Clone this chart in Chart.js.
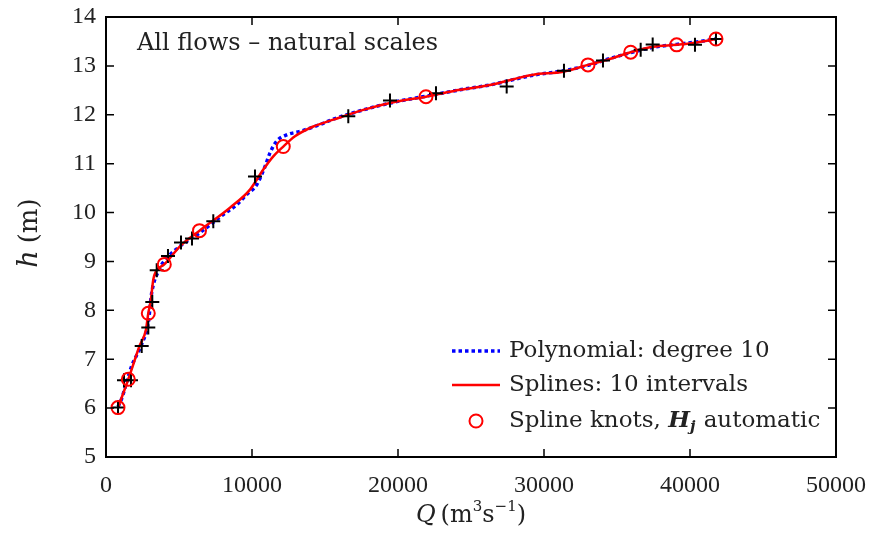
<!DOCTYPE html>
<html><head><meta charset="utf-8">
<script src="https://cdn.jsdelivr.net/npm/chart.js@4/dist/chart.umd.min.js"></script>
<style>html,body{margin:0;padding:0;background:#fff;}</style>
</head><body>
<canvas id="c" width="881" height="534"></canvas>
<script>
// Observations (black crosses)
const obsQ = [822, 1233, 1712, 2445, 2897, 3171, 3473, 4246, 5137, 5890, 7349, 10205, 16595, 19451, 22602, 27444, 31368, 34040, 36622, 37444, 40341, 41779];
const obsH = [6.01, 6.57, 6.57, 7.27, 7.65, 8.17, 8.82, 9.11, 9.39, 9.47, 9.82, 10.74, 11.97, 12.29, 12.44, 12.58, 12.90, 13.11, 13.33, 13.44, 13.43, 13.55];
// Spline knots (red circles)
const knotQ = [822, 1527, 2897, 3993, 6404, 12143, 21917, 33012, 35937, 39087, 41779];
const knotH = [6.01, 6.59, 7.94, 8.94, 9.63, 11.35, 12.37, 13.02, 13.28, 13.43, 13.55];
// Spline curve (red line)
const splineQ = [822, 1527, 2294, 2740, 2897, 3061, 3240, 3425, 3993, 5068, 6404, 8493, 9863, 10773, 11458, 12143, 12944, 14198, 15568, 17623, 19910, 21917, 24245, 26300, 29266, 31321, 33012, 34294, 35937, 37485, 39087, 40458, 41779];
const splineH = [6.01, 6.59, 7.27, 7.61, 7.94, 8.19, 8.63, 8.80, 8.94, 9.31, 9.63, 10.10, 10.47, 10.88, 11.15, 11.35, 11.56, 11.76, 11.90, 12.10, 12.27, 12.37, 12.51, 12.61, 12.82, 12.88, 13.02, 13.12, 13.28, 13.39, 13.43, 13.48, 13.55];
// Polynomial degree 10 (blue dotted)
const polyQ = [822, 1007, 1760, 2445, 2897, 3130, 3582, 3972, 5068, 6438, 8034, 8952, 9637, 10322, 10890, 11232, 11691, 12376, 13287, 14657, 15568, 17623, 19910, 21917, 24245, 26300, 29266, 31321, 33012, 34294, 35937, 37485, 39087, 40458, 41779];
const polyH = [6.03, 6.14, 6.86, 7.31, 7.75, 8.36, 8.80, 9.00, 9.31, 9.59, 9.96, 10.16, 10.37, 10.57, 10.94, 11.22, 11.46, 11.59, 11.66, 11.80, 11.91, 12.10, 12.27, 12.38, 12.51, 12.61, 12.81, 12.90, 13.01, 13.13, 13.27, 13.38, 13.44, 13.49, 13.55];
// Ticks
const xTicks = [0, 10000, 20000, 30000, 40000, 50000];
const yTicks = [5, 6, 7, 8, 9, 10, 11, 12, 13, 14];
const legendLabels = ["Polynomial: degree 10", "Splines: 10 intervals", "Spline knots, ", "H", "j", " automatic"];
const annotation = "All flows \u2013 natural scales";

const pts = (xs, ys) => xs.map((x, i) => ({x: x, y: ys[i]}));
const serif = "'Liberation Serif','Times New Roman',serif";
const wide = "'DejaVu Serif',serif";
const F = (size, style, fam) => (style ? style + ' ' : '') + size + 'px ' + (fam || wide);

function drawRich(ctx, parts, x, y) {
  let cx = x;
  for (const p of parts) {
    ctx.font = p.font;
    ctx.fillText(p.t, cx, y + (p.dy || 0));
    cx += ctx.measureText(p.t).width + (p.gap || 0);
  }
  return cx - x;
}
function richWidth(ctx, parts) {
  let w = 0;
  for (const p of parts) { ctx.font = p.font; w += ctx.measureText(p.t).width + (p.gap || 0); }
  return w;
}

const decor = {
  id: 'decor',
  afterDraw(chart) {
    const ctx = chart.ctx, a = chart.chartArea;
    const xs = chart.scales.x, ys = chart.scales.y;
    ctx.save();
    ctx.strokeStyle = '#000';
    ctx.lineWidth = 2;
    ctx.strokeRect(a.left, a.top, a.right - a.left, a.bottom - a.top);
    const tl = 8;
    ctx.lineWidth = 1.5;
    ctx.beginPath();
    for (const v of xTicks) {
      const px = xs.getPixelForValue(v);
      ctx.moveTo(px, a.bottom); ctx.lineTo(px, a.bottom - tl);
      ctx.moveTo(px, a.top); ctx.lineTo(px, a.top + tl);
    }
    for (const v of yTicks) {
      const py = ys.getPixelForValue(v);
      ctx.moveTo(a.left, py); ctx.lineTo(a.left + tl, py);
      ctx.moveTo(a.right, py); ctx.lineTo(a.right - tl, py);
    }
    ctx.stroke();

    ctx.fillStyle = '#222';
    ctx.textBaseline = 'middle';
    ctx.textAlign = 'left';
    // annotation
    ctx.font = F(24);
    ctx.fillText(annotation, 137, 44);

    // x axis title
    const xt = [
      {t: 'Q', font: F(24, 'italic'), gap: 5},
      {t: '(m', font: F(24)},
      {t: '3', font: F(15), dy: -9},
      {t: 's', font: F(24)},
      {t: '\u22121', font: F(15), dy: -9},
      {t: ')', font: F(24)}
    ];
    const cx = (a.left + a.right) / 2;
    const w = richWidth(ctx, xt);
    drawRich(ctx, xt, cx - w / 2, 516);

    // y axis title
    ctx.save();
    ctx.translate(30, 233);
    ctx.rotate(-Math.PI / 2);
    const yt = [
      {t: 'h', font: F(27, 'italic'), gap: 7},
      {t: '(m)', font: F(26)}
    ];
    const wy = richWidth(ctx, yt);
    drawRich(ctx, yt, -wy / 2, 0);
    ctx.restore();

    // legend
    const lx0 = 452, lx1 = 500, tx = 509;
    const rows = [351, 385, 421];
    ctx.lineCap = 'butt';
    ctx.strokeStyle = '#0000ff'; ctx.lineWidth = 3.5; ctx.setLineDash([3.5, 3]);
    ctx.beginPath(); ctx.moveTo(lx0, rows[0]); ctx.lineTo(lx1, rows[0]); ctx.stroke();
    ctx.setLineDash([]);
    ctx.strokeStyle = '#ff0000'; ctx.lineWidth = 2.5;
    ctx.beginPath(); ctx.moveTo(lx0, rows[1]); ctx.lineTo(lx1, rows[1]); ctx.stroke();
    ctx.lineWidth = 2;
    ctx.beginPath(); ctx.arc((lx0 + lx1) / 2, rows[2], 6.5, 0, Math.PI * 2); ctx.stroke();
    ctx.fillStyle = '#222';
    ctx.font = F(23);
    ctx.fillText(legendLabels[0], tx, rows[0]);
    ctx.fillText(legendLabels[1], tx, rows[1]);
    drawRich(ctx, [
      {t: legendLabels[2], font: F(23)},
      {t: legendLabels[3], font: F(23, 'italic bold')},
      {t: legendLabels[4], font: F(15, 'italic bold'), dy: 6, gap: 1},
      {t: legendLabels[5], font: F(23)}
    ], tx, rows[2]);
    ctx.restore();
  }
};

new Chart(document.getElementById('c'), {
  type: 'scatter',
  data: {
    datasets: [
      {label: 'knots', data: pts(knotQ, knotH), pointStyle: 'circle', pointRadius: 6.5, borderColor: '#ff0000', backgroundColor: 'rgba(0,0,0,0)', borderWidth: 2, showLine: false, order: 0},
      {label: 'obs', data: pts(obsQ, obsH), pointStyle: 'cross', pointRadius: 7, borderColor: '#000', backgroundColor: '#000', borderWidth: 2, showLine: false, order: 1},
      {label: 'spline', data: pts(splineQ, splineH), showLine: true, pointRadius: 0, borderColor: '#ff0000', borderWidth: 2.5, cubicInterpolationMode: 'monotone', order: 2},
      {label: 'poly', data: pts(polyQ, polyH), showLine: true, pointRadius: 0, borderColor: '#0000ff', borderWidth: 3.5, borderDash: [3.5, 3], borderCapStyle: 'butt', cubicInterpolationMode: 'monotone', order: 3}
    ]
  },
  options: {
    responsive: false,
    animation: false,
    devicePixelRatio: 1,
    layout: {padding: {top: 17, right: 45, left: 0, bottom: 0}},
    plugins: {legend: {display: false}, tooltip: {enabled: false}},
    scales: {
      x: {
        type: 'linear', min: 0, max: 50000,
        afterBuildTicks: s => { s.ticks = xTicks.map(v => ({value: v})); },
        afterFit: s => { s.height = 77; s.paddingLeft = 0; s.paddingRight = 0; },
        grid: {display: false, drawTicks: false},
        border: {display: false},
        ticks: {color: '#222', font: {family: serif, size: 24}, padding: 14, maxRotation: 0, callback: v => String(v)}
      },
      y: {
        type: 'linear', min: 5, max: 14,
        afterBuildTicks: s => { s.ticks = yTicks.map(v => ({value: v})); },
        afterFit: s => { s.width = 106; s.paddingTop = 0; s.paddingBottom = 0; },
        grid: {display: false, drawTicks: false},
        border: {display: false},
        ticks: {color: '#222', font: {family: serif, size: 24}, padding: 10, callback: v => String(v)}
      }
    }
  },
  plugins: [decor]
});
</script>
</body></html>
